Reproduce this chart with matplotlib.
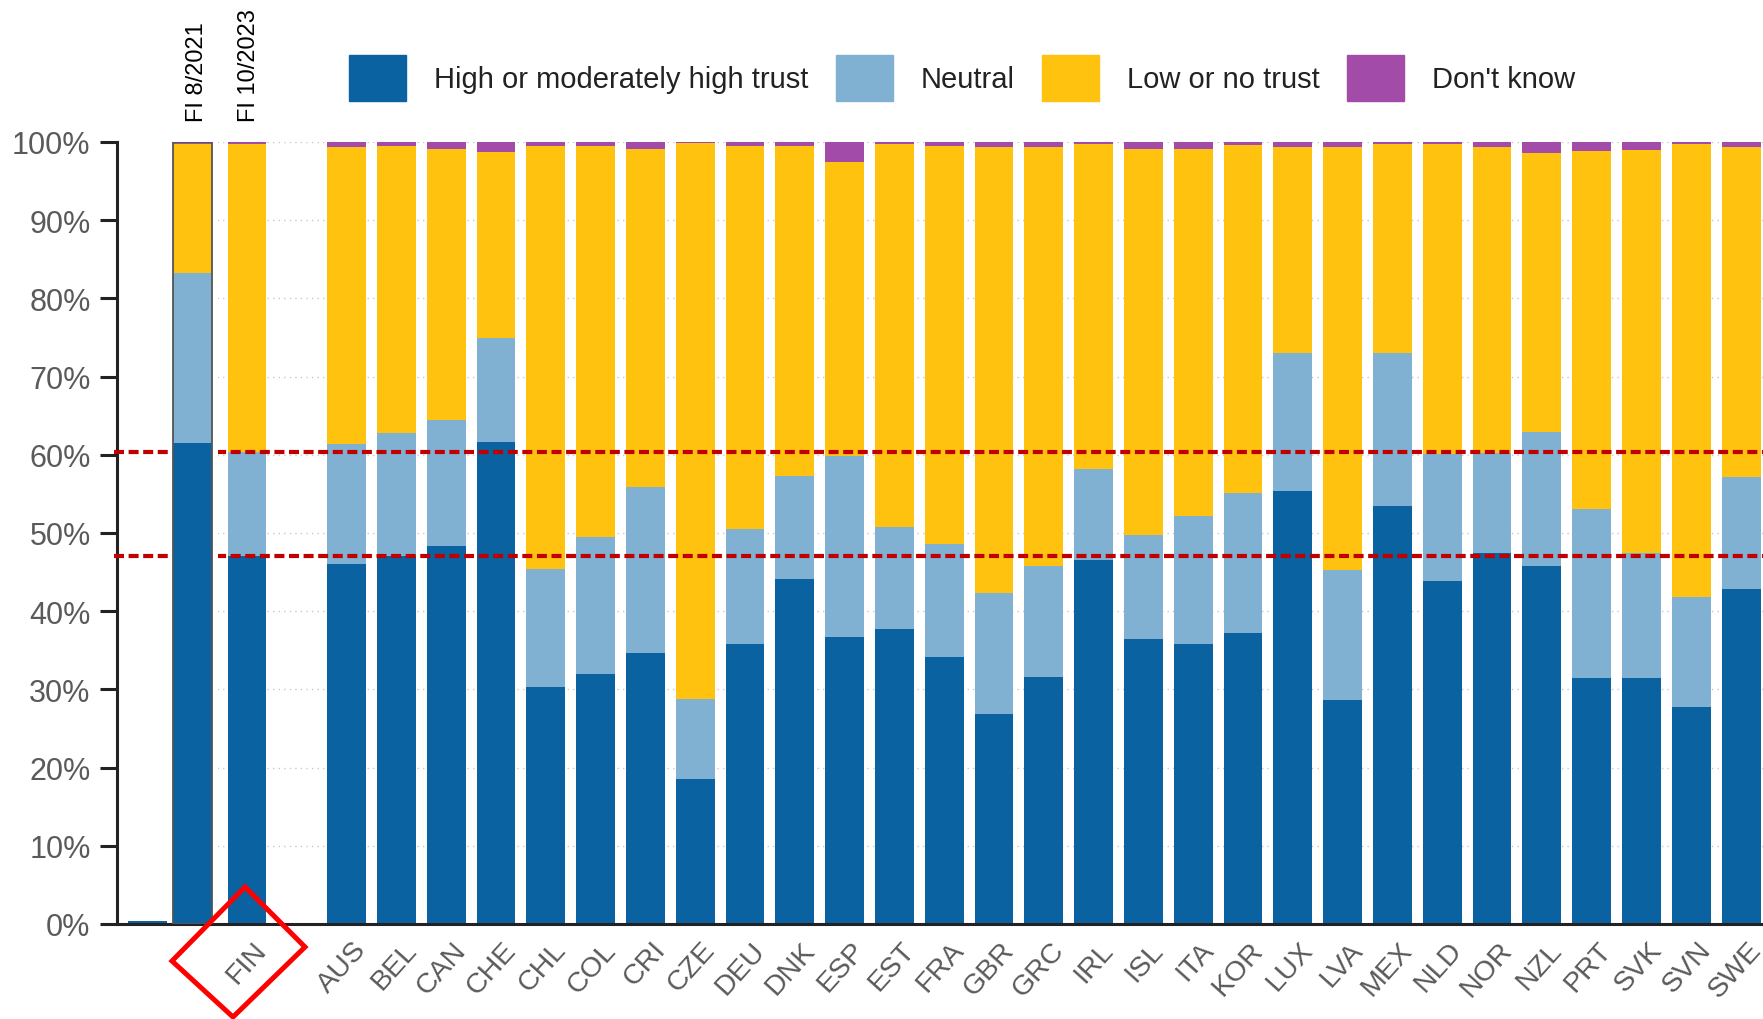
import numpy as np
import matplotlib
matplotlib.use("Agg")
import matplotlib.pyplot as plt
from matplotlib.patches import Polygon, Rectangle
from matplotlib.transforms import ScaledTranslation

# ---------------- data ----------------
countries = ["AUS", "BEL", "CAN", "CHE", "CHL", "COL", "CRI", "CZE", "DEU", "DNK",
             "ESP", "EST", "FRA", "GBR", "GRC", "IRL", "ISL", "ITA", "KOR", "LUX",
             "LVA", "MEX", "NLD", "NOR", "NZL", "PRT", "SVK", "SVN", "SWE"]
high = [46.0, 47.1, 48.4, 61.7, 30.3, 32.0, 34.6, 18.6, 35.8, 44.1,
        36.7, 37.7, 34.2, 26.9, 31.6, 46.5, 36.4, 35.8, 37.2, 55.4,
        28.6, 53.5, 43.8, 47.5, 45.8, 31.5, 31.5, 27.8, 42.8]
neutral = [15.4, 15.7, 16.0, 13.3, 15.1, 17.5, 21.3, 10.2, 14.7, 13.2,
           23.2, 13.1, 14.4, 15.4, 14.2, 11.7, 13.3, 16.4, 17.9, 17.6,
           16.7, 19.5, 16.3, 12.7, 17.1, 21.6, 16.0, 14.0, 14.3]
low = [38.0, 36.7, 34.7, 23.7, 54.1, 50.0, 43.2, 71.1, 49.0, 42.2,
       37.5, 48.9, 50.9, 57.1, 53.6, 41.6, 49.4, 46.9, 44.5, 26.4,
       54.1, 26.8, 39.7, 39.1, 35.7, 45.7, 51.5, 58.0, 42.3]
dontknow = [0.6, 0.5, 0.9, 1.3, 0.5, 0.5, 0.9, 0.1, 0.5, 0.5,
            2.6, 0.3, 0.5, 0.6, 0.6, 0.2, 0.9, 0.9, 0.4, 0.6,
            0.6, 0.2, 0.2, 0.7, 1.4, 1.2, 1.0, 0.2, 0.6]

# Finland, 10/2023 (label FIN) and 8/2021 overlay bar
fin_2023 = {"high": 47.0, "neutral": 13.3, "low": 39.5, "dk": 0.2}
fin_2021 = {"high": 61.5, "neutral": 21.8, "low": 16.4, "dk": 0.3}
remnant_high = 0.4  # leftover sliver at far left

series_labels = ["High or moderately high trust", "Neutral", "Low or no trust", "Don't know"]
fi_labels = ["FI 8/2021", "FI 10/2023"]
yticks = list(range(0, 101, 10))

# ---------------- style ----------------
C_HIGH = "#0B62A0"
C_NEU = "#80B1D3"
C_LOW = "#FFC20E"
C_DK = "#A24BA8"
SANS = ["Liberation Sans", "DejaVu Sans"]

W, H = 1763, 1020
fig = plt.figure(figsize=(W / 100, H / 100), dpi=100)
ax = fig.add_axes([117 / W, 95 / H, 1646 / W, 782 / H])

width = 0.78
cx = np.arange(4, 4 + len(countries))
fin_x = 2.0
fi21_x = 0.9
rem_x = 0.0

# gridlines
ax.set_axisbelow(True)
ax.yaxis.grid(True, linestyle=(0, (1, 3)), color="#c8c8c8", lw=1.0)

# white region at far left (covered in original)
ax.add_patch(Rectangle((-0.61, 0), 1.03, 100, facecolor="white", edgecolor="none", zorder=1))


def stack(x, h, n, l, d, z):
    h = np.asarray(h, float); n = np.asarray(n, float)
    l = np.asarray(l, float); d = np.asarray(d, float)
    ax.bar(x, h, width, color=C_HIGH, zorder=z, lw=0)
    ax.bar(x, n, width, bottom=h, color=C_NEU, zorder=z, lw=0)
    ax.bar(x, l, width, bottom=h + n, color=C_LOW, zorder=z, lw=0)
    ax.bar(x, d, width, bottom=h + n + l, color=C_DK, zorder=z, lw=0)


stack(cx, high, neutral, low, dontknow, 2)
stack([fin_x], [fin_2023["high"]], [fin_2023["neutral"]], [fin_2023["low"]], [fin_2023["dk"]], 2)
ax.bar([rem_x], [remnant_high], width, color=C_HIGH, zorder=2, lw=0)

# reference lines at FIN 10/2023 levels
ref_levels = [fin_2023["high"], fin_2023["high"] + fin_2023["neutral"]]
for yv in ref_levels:
    ax.plot([-0.67, 32.44], [yv, yv], color="#C00000", lw=3.0,
            dashes=(2.4, 1.1), zorder=3, clip_on=False,
            dash_capstyle="butt")

# overlay for FI 8/2021
ax.add_patch(Rectangle((0.416, 0.4), 1.0, 100.5, facecolor="white", edgecolor="none",
                       zorder=4, clip_on=False))
stack([fi21_x], [fin_2021["high"]], [fin_2021["neutral"]], [fin_2021["low"]], [fin_2021["dk"]], 5)
ax.bar([fi21_x], [100], width, fill=False, edgecolor="#555555", lw=1.3, zorder=6)

# axes
ax.set_xlim(-0.61, 32.44)
ax.set_ylim(0, 100)
ax.set_yticks(yticks)
ax.set_yticklabels([f"{v}%" for v in yticks], family=SANS, fontsize=22, color="#5a5a5a")
ax.tick_params(axis="y", length=12, width=2.2, color="#222222", pad=7, direction="out")
for s in ["top", "right"]:
    ax.spines[s].set_visible(False)
for s in ["left", "bottom"]:
    ax.spines[s].set_color("#222222")
    ax.spines[s].set_linewidth(2.2)

xt = [fin_x] + list(cx)
xl = ["FIN"] + countries
ax.set_xticks(xt)
ax.set_xticklabels(xl, rotation=48, ha="right", va="top", rotation_mode="anchor",
                   family=SANS, fontsize=20.5, color="#5a5a5a")
ax.tick_params(axis="x", length=0, pad=9)
off = ScaledTranslation(6 / 100, 0, fig.dpi_scale_trans)
for lab in ax.get_xticklabels():
    lab.set_transform(lab.get_transform() + off)

# FI labels above the bars
for xv, txt, dx in [(fi21_x, fi_labels[0], 5), (fin_x, fi_labels[1], 2)]:
    ax.annotate(txt, xy=(xv, 100), xycoords=("data", "data"),
                xytext=(dx * 0.72, 15), textcoords="offset points",
                rotation=90, ha="center", va="bottom", fontsize=17,
                family=SANS, color="black", annotation_clip=False)

# legend
handles = [Rectangle((0, 0), 1, 1, color=c) for c in (C_HIGH, C_NEU, C_LOW, C_DK)]
leg = fig.legend(handles, series_labels, ncol=4, loc="center left",
                 bbox_to_anchor=(349 / W, 1 - 79 / H), frameon=False,
                 prop={"family": SANS, "size": 21},
                 handlelength=1.95, handleheight=2.05, handletextpad=0.95,
                 columnspacing=0.95, borderaxespad=0, borderpad=0)
for t in leg.get_texts():
    t.set_color("#222222")

# red diamond highlighting FIN
diamond = [(245, 888), (305, 948), (233, 1018), (172, 962)]
fig.patches.append(Polygon([(x / W, 1 - y / H) for x, y in diamond], closed=True,
                           fill=False, edgecolor="#FF0000", lw=3.6, joinstyle="miter",
                           transform=fig.transFigure, figure=fig))

fig.savefig("out.png", dpi=100)
